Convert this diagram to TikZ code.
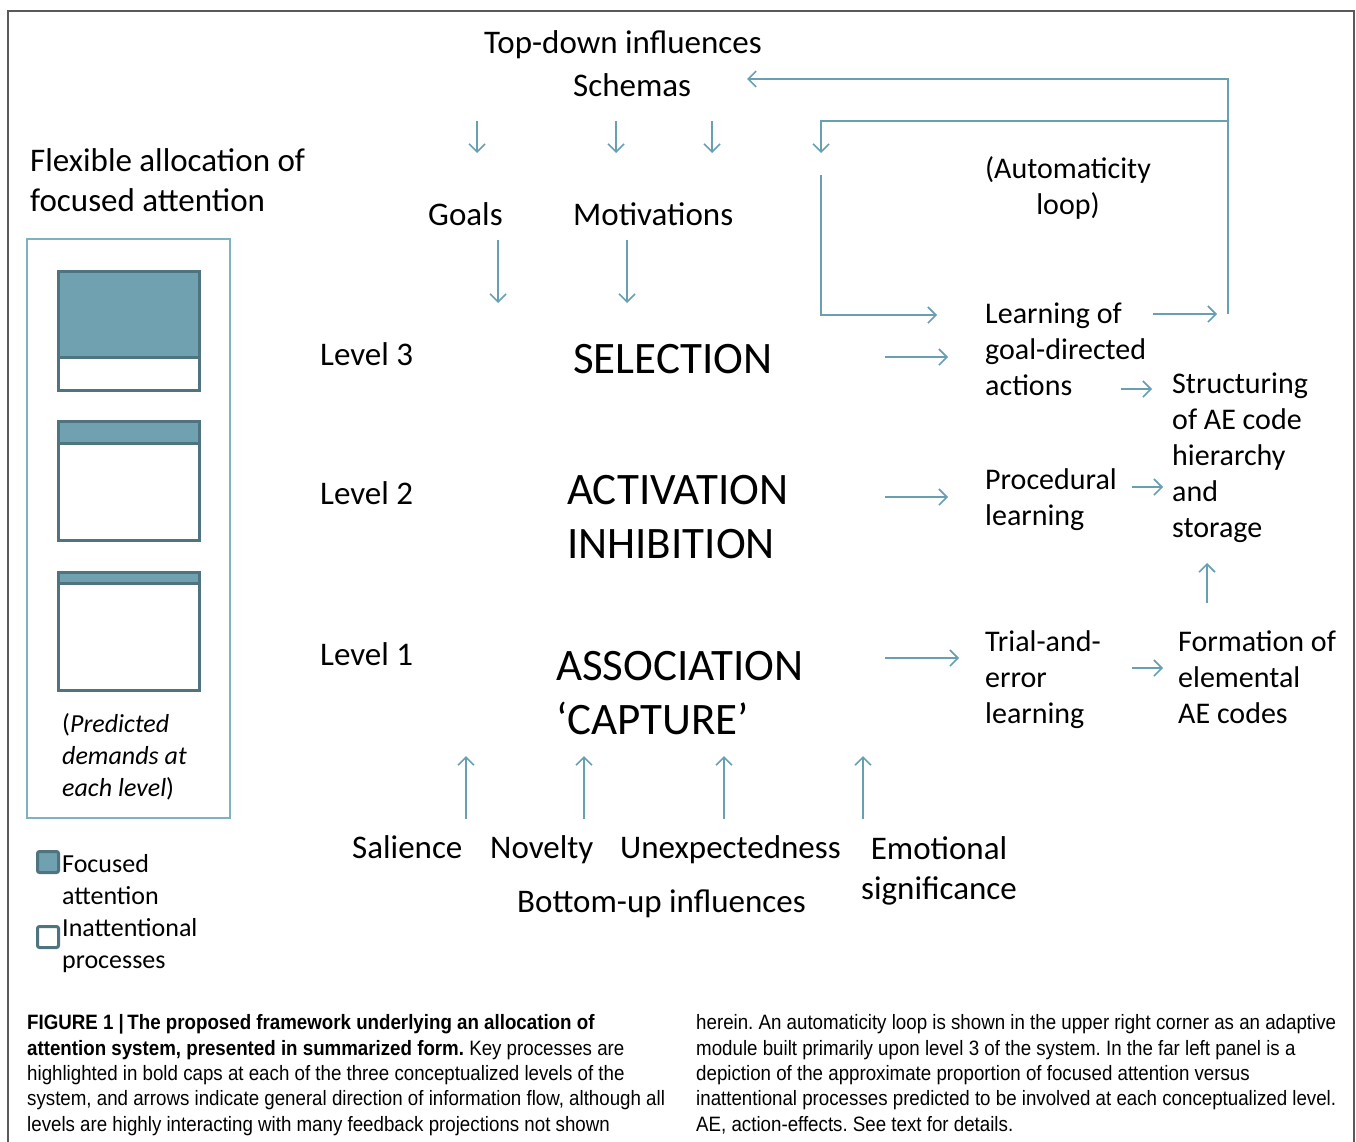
\documentclass[tikz,border=0pt]{standalone}
\usepackage{fontspec}
\setmainfont{Carlito}
\newfontfamily\capfont[FakeStretch=0.9]{Liberation Sans}
\usepackage{xcolor}
\usetikzlibrary{arrows.meta}
\definecolor{arrowc}{RGB}{104,160,178}
\definecolor{barfill}{RGB}{111,161,176}
\definecolor{barline}{RGB}{80,115,128}
\definecolor{panelc}{RGB}{127,178,192}
\definecolor{framec}{RGB}{90,90,90}
\frenchspacing

\begin{document}
\begin{tikzpicture}[x=1pt,y=1pt,yscale=-1,xscale=1,
    txt/.style={inner sep=0pt, font=\fontsize{33}{40}\selectfont},
    rtxt/.style={inner sep=0pt, align=left, anchor=base west, font=\fontsize{30}{36}\selectfont},
    bigtxt/.style={inner sep=0pt, align=left, anchor=base west, font=\fontsize{45}{54}\selectfont},
    smalltxt/.style={inner sep=0pt, align=left, anchor=base west, font=\fontsize{26}{32}\selectfont},
    captxt/.style={inner sep=0pt, align=left, anchor=base west, font=\capfont\fontsize{20.8}{25.3}\selectfont},
    arr/.style={draw=arrowc, line width=1.6pt, -{Straight Barb[length=8pt,width=16pt]}},
    bar/.style={draw=barline, line width=3pt},
    legsq/.style={draw=barline, line width=3pt, rounded corners=2pt, minimum size=21pt, inner sep=0pt}]
        \useasboundingbox (0,0) rectangle (1356,1141);
        \draw [framec, line width=1.5pt] (8,11) rectangle (1354,1160);

        % top-down side (multi-line nodes sit on their last baseline)
        \node [txt, anchor=base] (topdown) at (623,53) {Top-down influences};
        \node [txt, anchor=base west] (schemas) at (573,96) {Schemas};
        \node [txt, anchor=base west] (goals) at (428,225) {Goals};
        \node [txt, anchor=base west] (motiv) at (573,225) {Motivations};
        \node [txt, align=left, anchor=base west] (flex) at (30,211) {Flexible allocation of\\focused attention};
        \node [rtxt, align=center, anchor=base] (autoloop) at (1068,214) {(Automaticity\\loop)};

        % levels
        \node [txt, anchor=base west] (lev3) at (320,365) {Level 3};
        \node [txt, anchor=base west] (lev2) at (320,504) {Level 2};
        \node [txt, anchor=base west] (lev1) at (320,665) {Level 1};
        \node [bigtxt] (sel) at (573,373) {SELECTION};
        \node [bigtxt] (actinh) at (567,558) {ACTIVATION\\INHIBITION};
        \node [bigtxt] (assoc) at (556,734) {ASSOCIATION\\‘CAPTURE’};

        % learning side
        \node [rtxt] (learngoal) at (985,395) {Learning of\\goal-directed\\actions};
        \node [rtxt] (proclearn) at (985,525) {Procedural\\learning};
        \node [rtxt] (triallearn) at (985,723) {Trial-and-\\error\\learning};
        \node [rtxt] (structae) at (1172,537) {Structuring\\of AE code\\hierarchy\\and\\storage};
        \node [rtxt] (formae) at (1178,723) {Formation of\\elemental\\AE codes};

        % bottom-up side
        \node [txt, anchor=base west] (salience) at (352,858) {Salience};
        \node [txt, anchor=base west] (novelty) at (490,858) {Novelty};
        \node [txt, anchor=base west] (unexp) at (620,858) {Unexpectedness};
        \node [txt, align=center, anchor=base] (emosig) at (939,899) {Emotional\\significance};
        \node [txt, anchor=base west] (bottomup) at (517,912) {Bottom-up influences};

        % arrow ends
        \coordinate (loopr) at (1228,314);
        \coordinate (loopm) at (1228,121);
        \coordinate (schin) at (747,79);
        \coordinate (autoin) at (821,153);
        \coordinate (autoout) at (821,175);
        \coordinate (learnin) at (937,315);
        \coordinate (learnout) at (1153,314);
        \coordinate (learnend) at (1217,314);
        \draw [arr] (loopr) |- (schin);
        \draw [arr] (loopm) -| (autoin);
        \draw [arr] (autoout) |- (learnin);
        \draw [arr] (learnout) -- (learnend);

        \foreach \x in {477,616,712}
            \draw [arr] (\x,121) -- (\x,153);
        \foreach \x in {498,627}
            \draw [arr] (\x,240) -- (\x,303);

        \coordinate (s3a) at (885,357); \coordinate (s3b) at (948,357);
        \coordinate (s2a) at (885,497); \coordinate (s2b) at (948,497);
        \coordinate (s1a) at (885,658); \coordinate (s1b) at (959,658);
        \coordinate (acta) at (1121,389); \coordinate (actb) at (1152,389);
        \coordinate (proa) at (1132,487); \coordinate (prob) at (1163,487);
        \coordinate (tria) at (1132,668); \coordinate (trib) at (1163,668);
        \coordinate (fora) at (1207,603); \coordinate (forb) at (1207,563);
        \draw [arr] (s3a) -- (s3b);
        \draw [arr] (s2a) -- (s2b);
        \draw [arr] (s1a) -- (s1b);
        \draw [arr] (acta) -- (actb);
        \draw [arr] (proa) -- (prob);
        \draw [arr] (tria) -- (trib);
        \draw [arr] (fora) -- (forb);

        \foreach \x in {466,584,724,863}
            \draw [arr] (\x,819) -- (\x,756);

        % left panel
        \node [draw=panelc, line width=1.5pt, minimum width=203pt, minimum height=579pt, inner sep=0pt] (panel) at (128.5,528.5) {};
        \foreach \t/\m/\b in {271/357/390, 421/443/540, 572/583/690} {
            \fill [barfill] (58,\t) rectangle (199,\m);
            \draw [bar] (58,\m) -- (199,\m);
            \draw [bar] (58,\t) rectangle (199,\b);
        }
        \node [smalltxt] (predict) at (62,796) {(\textit{Predicted}\\\textit{demands at}\\\textit{each level})};

        % legend
        \node [legsq, fill=barfill] (legfoc) at (48,862) {};
        \node [legsq, fill=white] (leginat) at (48,937) {};
        \node [smalltxt] (legfoct) at (62,904) {Focused\\attention};
        \node [smalltxt] (leginatt) at (62,968) {Inattentional\\processes};

        % caption
        \node [captxt] (capleft) at (27,1131) {\textbf{FIGURE 1 |\,The proposed framework underlying an allocation of}\\
            \textbf{attention system, presented in summarized form.} Key processes are\\
            highlighted in bold caps at each of the three conceptualized levels of the\\
            system, and arrows indicate general direction of information flow, although all\\
            levels are highly interacting with many feedback projections not shown};
        \node [captxt] (capright) at (696,1131) {herein. An automaticity loop is shown in the upper right corner as an adaptive\\
            module built primarily upon level 3 of the system. In the far left panel is a\\
            depiction of the approximate proportion of focused attention versus\\
            inattentional processes predicted to be involved at each conceptualized level.\\
            AE, action-effects. See text for details.};
    \end{tikzpicture}
\end{document}
